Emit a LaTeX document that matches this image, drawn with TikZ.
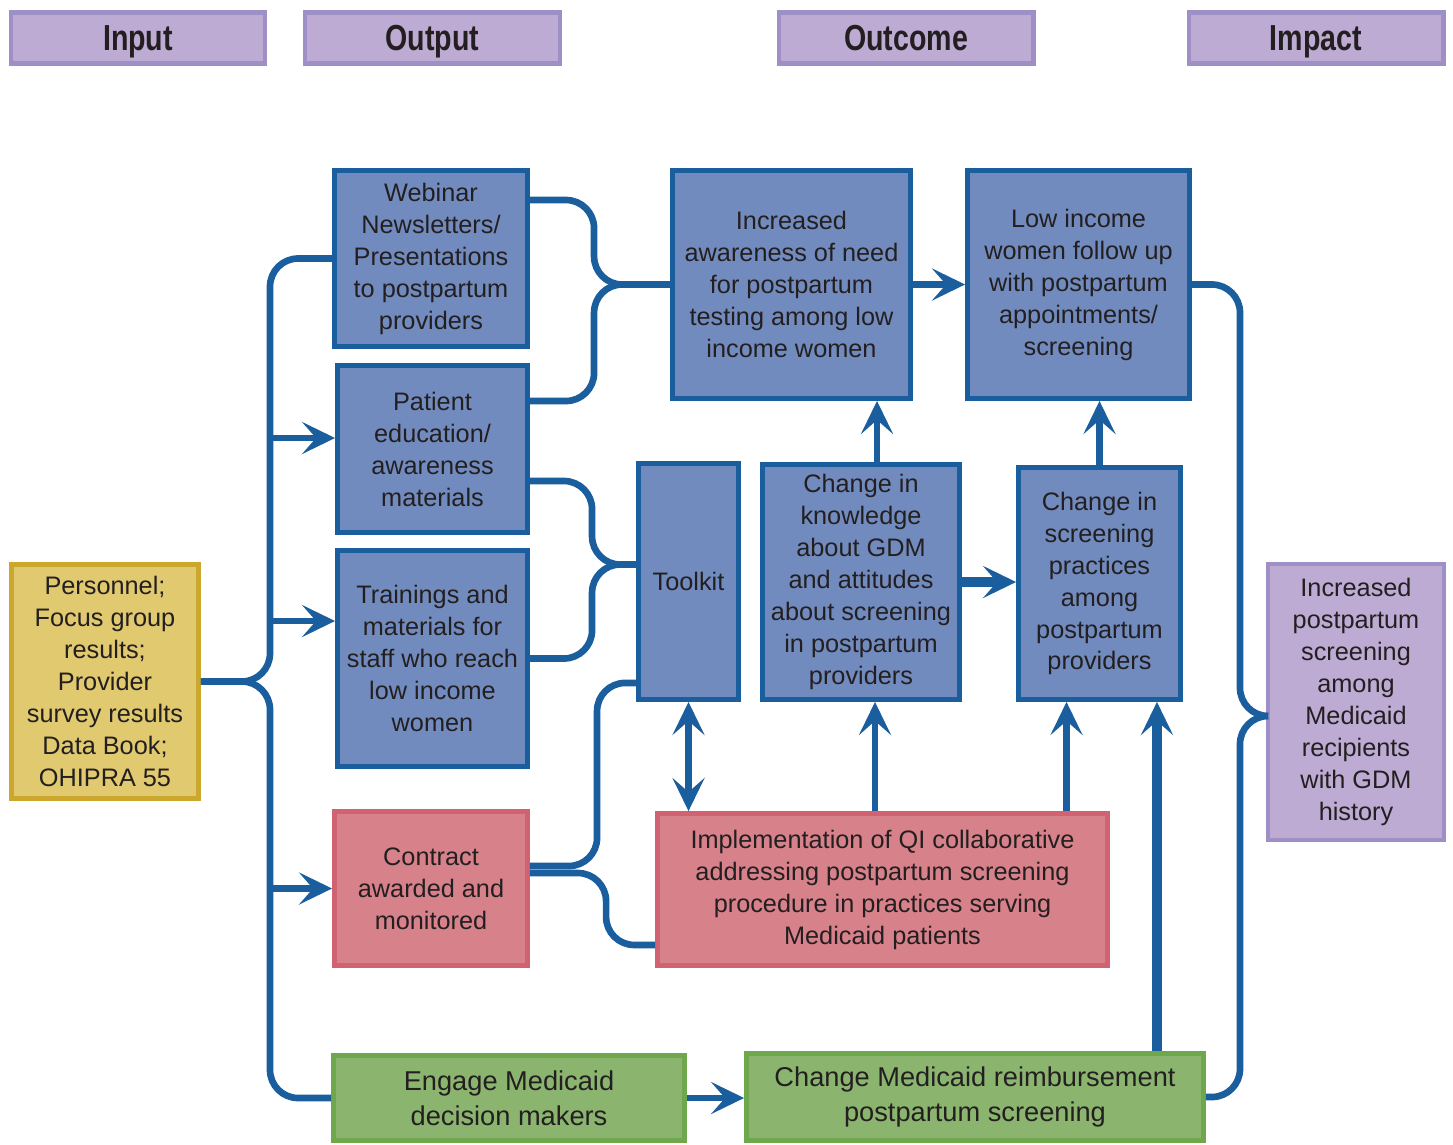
\documentclass[tikz,border=0pt]{standalone}
\usepackage{fontspec}
\setmainfont{Liberation Sans}
\usetikzlibrary{arrows.meta, calc}

\definecolor{lineblue}{HTML}{1A5E9E}
\definecolor{boxblue}{HTML}{728BBE}
\definecolor{headfill}{HTML}{BDABD3}
\definecolor{headline}{HTML}{9F8FC7}
\definecolor{inputfill}{HTML}{E0C96F}
\definecolor{inputline}{HTML}{CCA72E}
\definecolor{redfill}{HTML}{D7818B}
\definecolor{redline}{HTML}{D06272}
\definecolor{greenfill}{HTML}{8BB56F}
\definecolor{greenline}{HTML}{6FA84C}
\definecolor{inkgray}{HTML}{231F20}

\begin{document}
\begin{tikzpicture}[
    x=0.02cm, y=-0.02cm,
    % Styles
    basebox/.style={rectangle, line width=2.8pt, align=center, inner sep=0pt, text=inkgray, font=\fontsize{14.4}{18.2}\selectfont},
    headbox/.style={rectangle, draw=headline, fill=headfill, line width=2.3pt, minimum width=5.1cm, minimum height=1.02cm, text height=14.75pt, text depth=0pt, text=inkgray, font=\bfseries\fontsize{20.6}{22}\selectfont},
    bluebox/.style={basebox, draw=lineblue, fill=boxblue},
    inputbox/.style={basebox, draw=inputline, fill=inputfill},
    redbox/.style={basebox, draw=redline, fill=redfill},
    greenbox/.style={basebox, draw=greenline, fill=greenfill, font=\fontsize{15.5}{19.8}\selectfont},
    impactbox/.style={basebox, draw=headline, fill=headfill, line width=2.3pt},
    link/.style={line width=3.8pt, draw=lineblue, rounded corners=16pt},
    arrow/.style={link, -{Stealth[length=0.66cm, width=0.64cm, inset=0.28cm]}},
    dblarrow/.style={link, {Stealth[length=0.66cm, width=0.64cm, inset=0.28cm]}-{Stealth[length=0.66cm, width=0.64cm, inset=0.28cm]}},
    heavy/.style={line width=5.2pt}
]
\useasboundingbox (0,0) rectangle (1453,1144);

% Column headers
\node[headbox] (hInput) at (138,38) {\scalebox{0.79}[1]{Input}};
\node[headbox] (hOutput) at (432.5,38) {\scalebox{0.79}[1]{Output}};
\node[headbox] (hOutcome) at (906,38) {\scalebox{0.79}[1]{Outcome}};
\node[headbox] (hImpact) at (1316,38) {\scalebox{0.79}[1]{Impact}};

% Input
\node[inputbox, minimum width=3.74cm, minimum height=4.68cm] (input) at (105,681.5) {Personnel;\\Focus group\\results;\\Provider\\survey results\\Data Book;\\OHIPRA 55};

% Outputs
\node[bluebox, minimum width=3.86cm, minimum height=3.52cm] (webinar) at (431,258.5) {Webinar\\Newsletters/\\Presentations\\to postpartum\\providers};
\node[bluebox, minimum width=3.80cm, minimum height=3.34cm] (patient) at (432.5,449) {Patient\\education/\\awareness\\materials};
\node[bluebox, minimum width=3.80cm, minimum height=4.32cm] (train) at (432.5,658.5) {Trainings and\\materials for\\staff who reach\\low income\\women};
\node[redbox, minimum width=3.86cm, minimum height=3.08cm] (contract) at (431,888.5) {Contract\\awarded and\\monitored};
\node[greenbox, minimum width=7.02cm, minimum height=1.70cm] (engage) at (509,1098) {Engage Medicaid\\decision makers};
\node[bluebox, minimum width=2.00cm, minimum height=4.72cm] (toolkit) at (688.5,581.5) {Toolkit};
\node[redbox, minimum width=9.00cm, minimum height=3.04cm] (impl) at (882.5,889.5) {Implementation of QI collaborative\\addressing postpartum screening\\procedure in practices serving\\Medicaid patients};

% Outcomes
\node[bluebox, minimum width=4.76cm, minimum height=4.56cm] (aware) at (791.5,284.5) {Increased\\awareness of need\\for postpartum\\testing among low\\income women};
\node[bluebox, minimum width=4.44cm, minimum height=4.56cm] (low) at (1078.5,284.5) {Low income\\women follow up\\with postpartum\\appointments/\\screening};
\node[bluebox, minimum width=3.94cm, minimum height=4.70cm] (know) at (861,582) {Change in\\knowledge\\about GDM\\and attitudes\\about screening\\in postpartum\\providers};
\node[bluebox, minimum width=3.24cm, minimum height=4.64cm] (screen) at (1099.5,583.5) {Change in\\screening\\practices\\among\\postpartum\\providers};
\node[greenbox, minimum width=9.14cm, minimum height=1.74cm] (medicaid) at (975,1097) {Change Medicaid reimbursement\\postpartum screening};

% Impact
\node[impactbox, minimum width=3.52cm, minimum height=5.52cm] (result) at (1356,702) {Increased\\postpartum\\screening\\among\\Medicaid\\recipients\\with GDM\\history};

% Input brace
\coordinate (inJ) at (270,681.5);
\coordinate (patIn) at ([yshift=0.22cm]patient.west);
\coordinate (trainIn) at ([yshift=0.75cm]train.west);
\draw[link] (input.east) -- (inJ) |- (webinar.west);
\draw[link] (input.east) -- (inJ) |- (engage.west);
\draw[arrow] (inJ |- patIn) -- (patIn);
\draw[arrow] (inJ |- trainIn) -- (trainIn);
\draw[arrow] (inJ |- contract.west) -- (contract.west);

% Outputs into awareness and toolkit
\coordinate (awJ) at ($(aware.west)+(-76,0)$);
\draw[link] ([yshift=1.17cm]webinar.east) -| (awJ) -- (aware.west);
\draw[link] ([yshift=0.96cm]patient.east) -| (awJ) -- (aware.west);
\coordinate (tkJ) at ($(toolkit.west)+(-44,-17)$);
\draw[link] ([yshift=-0.64cm]patient.east) -| (tkJ) -- (toolkit.west |- tkJ);
\draw[link] (train.east) -| (tkJ) -- (toolkit.west |- tkJ);

% Contract
\coordinate (tkIn) at ([yshift=0.38cm]toolkit.south west);
\coordinate (impIn) at ([yshift=0.46cm]impl.south west);
\draw[link] ([yshift=0.45cm]contract.east) -| ($(tkIn)+(-39,0)$) -- (tkIn);
\draw[link] ([yshift=0.31cm]contract.east) -| ($(impIn)+(-49,0)$) -- (impIn);

% Implementation and outcomes
\coordinate (knIn) at ([xshift=0.28cm]know.south);
\coordinate (scIn) at ([xshift=-0.66cm]screen.south);
\coordinate (scIn2) at ([xshift=-0.52cm]screen.south east);
\coordinate (awIn) at ([xshift=0.32cm]know.north);
\draw[dblarrow] (toolkit.south) -- (toolkit.south |- impl.north);
\draw[arrow] (knIn |- impl.north) -- (knIn);
\draw[arrow] (scIn |- impl.north) -- (scIn);
\draw[arrow, heavy] (scIn2 |- medicaid.north) -- (scIn2);
\draw[arrow, heavy] (know.east) -- (know.east -| screen.west);
\draw[arrow] (awIn) -- (awIn |- aware.south);
\draw[arrow] (screen.north) -- (screen.north |- low.south);
\draw[arrow] (aware.east) -- (aware.east -| low.west);
\draw[arrow] (engage.east) -- (engage.east -| medicaid.west);

% Impact brace
\coordinate (resIn) at ([yshift=-0.28cm]result.west);
\coordinate (resJ) at ($(resIn)+(-26,0)$);
\draw[link] (low.east) -| (resJ) -- (resIn);
\draw[link] (medicaid.east) -| (resJ) -- (resIn);

\end{tikzpicture}
\end{document}
